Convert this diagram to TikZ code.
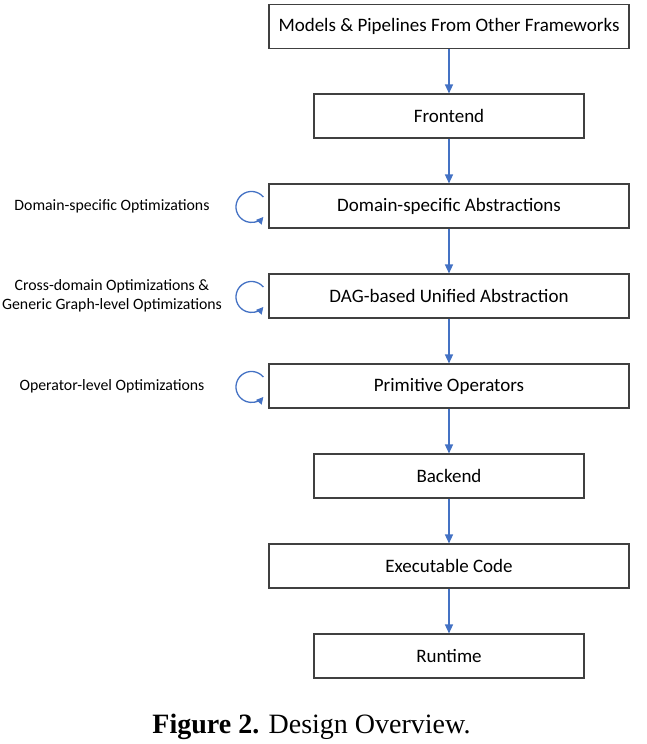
\documentclass[tikz,border=0pt]{standalone}
\usepackage{fontspec}
\setmainfont{Carlito}
\newfontfamily\capfont{Liberation Serif}
\usetikzlibrary{arrows.meta,calc}
\definecolor{arrblue}{HTML}{4472C4}
\definecolor{boxgray}{HTML}{404040}
\begin{document}
\begin{tikzpicture}[x=1pt,y=-1pt,
  wbox/.style={draw=boxgray,line width=1.1pt,minimum width=360pt,minimum height=44pt,inner sep=0pt,font=\fontsize{19}{23}\selectfont},
  nbox/.style={wbox,minimum width=270pt},
  flow/.style={draw=arrblue,line width=1.3pt,-{Triangle[length=9pt,width=8pt]}},
  loopar/.style={draw=arrblue,line width=1.3pt,-{Triangle[length=7pt,width=7pt]}},
  optlab/.style={font=\fontsize{15.8}{18.5}\selectfont,align=center}]
\useasboundingbox (0,0) rectangle (646,744);
\node[wbox] (n1) at (449,26.5) {Models \& Pipelines From Other Frameworks};
\node[nbox] (n2) at (449,116) {Frontend};
\node[wbox] (n3) at (449,206) {Domain-specific Abstractions};
\node[wbox] (n4) at (449,296) {DAG-based Unified Abstraction};
\node[wbox] (n5) at (449,386) {Primitive Operators};
\node[nbox] (n6) at (449,476) {Backend};
\node[wbox] (n7) at (449,566) {Executable Code};
\node[nbox] (n8) at (449,656) {Runtime};
\foreach \a/\b in {n1/n2,n2/n3,n3/n4,n4/n5,n5/n6,n6/n7,n7/n8}
  \draw[flow] (\a) -- (\b);
\foreach \n in {n3,n4,n5}{
  \draw[loopar] ($(\n.west)+(-5.1,-9)$) arc[start angle=-40,end angle=-320,radius=15.5];
}
\node[optlab] (o1) at (112,206) {Domain-specific Optimizations};
\node[optlab] (o2) at (112,296) {Cross-domain Optimizations \&\\Generic Graph-level Optimizations};
\node[optlab] (o3) at (112,386) {Operator-level Optimizations};
\node[font=\capfont\fontsize{28}{33}\selectfont] (cap) at (311.5,727) {\textbf{Figure 2.} Design Overview.};
\end{tikzpicture}
\end{document}
